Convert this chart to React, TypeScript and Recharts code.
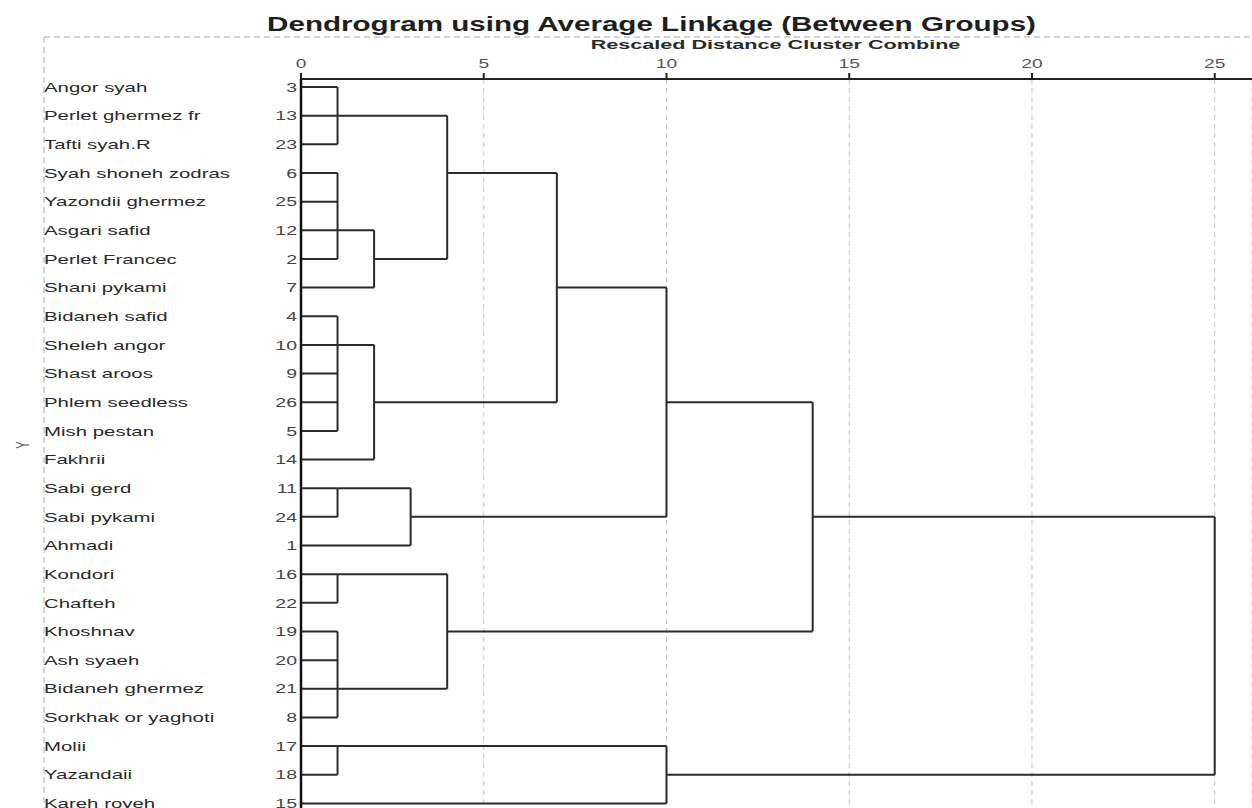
import React from "react";
import { ComposedChart, XAxis, YAxis, CartesianGrid, ReferenceLine } from "recharts";

// Grape varieties in dendrogram leaf order (top to bottom) and their case numbers
const varieties = [
  "Angor syah",
  "Perlet ghermez fr",
  "Tafti syah.R",
  "Syah shoneh zodras",
  "Yazondii ghermez",
  "Asgari safid",
  "Perlet Francec",
  "Shani pykami",
  "Bidaneh safid",
  "Sheleh angor",
  "Shast aroos",
  "Phlem seedless",
  "Mish pestan",
  "Fakhrii",
  "Sabi gerd",
  "Sabi pykami",
  "Ahmadi",
  "Kondori",
  "Chafteh",
  "Khoshnav",
  "Ash syaeh",
  "Bidaneh ghermez",
  "Sorkhak or yaghoti",
  "Molii",
  "Yazandaii",
  "Kareh royeh",
];
const caseNumbers = [3, 13, 23, 6, 25, 12, 2, 7, 4, 10, 9, 26, 5, 14, 11, 24, 1, 16, 22, 19, 20, 21, 8, 17, 18, 15];

const distanceTicks = [0, 5, 10, 15, 20, 25];

// Agglomeration steps: children are leaf rows ("0".."25") or earlier clusters,
// distance is the rescaled combine distance, row is where the cluster's branch leaves.
const mergeIds = ["c1", "c2", "c3", "c4", "c5", "c6", "c7", "c8", "c9", "c10", "c11", "c12", "c13", "c14", "c15", "c16", "c17"];
const mergeChildren = [
  ["0", "1", "2"],
  ["3", "4", "5", "6"],
  ["c2", "7"],
  ["c1", "c3"],
  ["8", "9", "10", "11", "12"],
  ["c5", "13"],
  ["c4", "c6"],
  ["14", "15"],
  ["c8", "16"],
  ["c7", "c9"],
  ["17", "18"],
  ["19", "20", "21", "22"],
  ["c11", "c12"],
  ["c10", "c13"],
  ["23", "24"],
  ["c15", "25"],
  ["c14", "c16"],
];
const mergeDistances = [1, 1, 2, 4, 1, 2, 7, 1, 3, 10, 1, 1, 4, 14, 1, 10, 25];
const mergeRows = [1, 5, 6, 3, 9, 11, 7, 14, 15, 11, 17, 21, 19, 15, 23, 24, 19.5];

type Pt = { x: number; y: number };
type Seg = [Pt, Pt];

function buildSegments(): Seg[] {
  const nodes: Record<string, { row: number; d: number }> = {};
  varieties.forEach((_, i) => {
    nodes[String(i)] = { row: i, d: 0 };
  });
  const segs: Seg[] = [];
  mergeIds.forEach((id, k) => {
    const d = mergeDistances[k];
    const kids = mergeChildren[k].map((c) => nodes[c]);
    const rows = kids.map((n) => n.row);
    kids.forEach((n) => {
      segs.push([
        { x: n.d, y: n.row },
        { x: d, y: n.row },
      ]);
    });
    segs.push([
      { x: d, y: Math.min(...rows) },
      { x: d, y: Math.max(...rows) },
    ]);
    nodes[id] = { row: mergeRows[k], d };
  });
  return segs;
}

const segments = buildSegments();
const rowData = varieties.map((name, i) => ({ row: i, dist: 0, name, num: caseNumbers[i] }));
const rowTicks = varieties.map((_, i) => i);

const X_DOMAIN: [number, number] = [0, 26.02];
const Y_DOMAIN: [number, number] = [-0.28, 25.16];

const FONT = "'Liberation Sans', Arial, Helvetica, sans-serif";

const RowTick = (props: any) => {
  const { y, payload } = props;
  const i = payload.value as number;
  return (
    <g>
      <text
        transform={`translate(44, ${y}) scale(1.57, 1)`}
        x={0}
        y={0}
        dy="0.36em"
        textAnchor="start"
        fontSize={13}
        fontFamily={FONT}
        fill="#2a2a2a"
      >
        {varieties[i]}
      </text>
      <text
        transform={`translate(297, ${y}) scale(1.5, 1)`}
        x={0}
        y={0}
        dy="0.36em"
        textAnchor="end"
        fontSize={13}
        fontFamily={FONT}
        fill="#444"
      >
        {caseNumbers[i]}
      </text>
    </g>
  );
};

const DistTick = (props: any) => {
  const { x, payload } = props;
  return (
    <text
      transform={`translate(${x}, 68) scale(1.6, 1)`}
      x={0}
      y={0}
      textAnchor="middle"
      fontSize={12}
      fontFamily={FONT}
      fill="#555"
    >
      {payload.value}
    </text>
  );
};

export default function App() {
  return (
    <div style={{ position: "absolute", left: 0, top: 0, width: 1252, height: 808, background: "#fff", overflow: "hidden" }}>
      <ComposedChart width={1252} height={808} data={rowData} margin={{ top: 0, right: 0, bottom: 0, left: 0 }}>
        <CartesianGrid horizontal={false} stroke="#c4c4c4" strokeDasharray="5 4" />
        <XAxis
          xAxisId={0}
          type="number"
          dataKey="dist"
          orientation="top"
          scale="linear"
          domain={X_DOMAIN}
          allowDataOverflow
          ticks={distanceTicks}
          height={79}
          axisLine={{ stroke: "#222", strokeWidth: 2 }}
          tickLine={{ stroke: "#222", strokeWidth: 2 }}
          tickSize={6}
          tick={<DistTick />}
        />
        <YAxis
          yAxisId={0}
          type="number"
          dataKey="row"
          reversed
          scale="linear"
          domain={Y_DOMAIN}
          allowDataOverflow
          ticks={rowTicks}
          interval={0}
          width={301}
          axisLine={{ stroke: "#111", strokeWidth: 2.5 }}
          tickLine={false}
          tick={<RowTick />}
        />
        {segments.map((s, i) => (
          <ReferenceLine
            key={i}
            xAxisId={0}
            yAxisId={0}
            segment={s}
            stroke="#2b2b2b"
            strokeWidth={2}
            ifOverflow="visible"
          />
        ))}
      </ComposedChart>
      <svg
        width={1252}
        height={808}
        style={{ position: "absolute", left: 0, top: 0, pointerEvents: "none" }}
      >
        <line x1={44} y1={37} x2={1252} y2={37} stroke="#a8a8a8" strokeWidth={1} strokeDasharray="6 4" />
        <line x1={44} y1={37} x2={44} y2={808} stroke="#a8a8a8" strokeWidth={1} strokeDasharray="6 4" />
        <text
          transform="translate(651.5, 31) scale(1.48, 1)"
          textAnchor="middle"
          fontSize={20}
          fontWeight="bold"
          fontFamily={FONT}
          fill="#1e1e1e"
        >
          Dendrogram using Average Linkage (Between Groups)
        </text>
        <text
          transform="translate(775.5, 49) scale(1.8, 1)"
          textAnchor="middle"
          fontSize={12}
          fontWeight="bold"
          fontFamily={FONT}
          fill="#2a2a2a"
        >
          Rescaled Distance Cluster Combine
        </text>
        <text
          transform="translate(29, 445) scale(1.6, 1) rotate(-90)"
          textAnchor="middle"
          fontSize={11}
          fontFamily={FONT}
          fill="#555"
        >
          Y
        </text>
      </svg>
    </div>
  );
}
